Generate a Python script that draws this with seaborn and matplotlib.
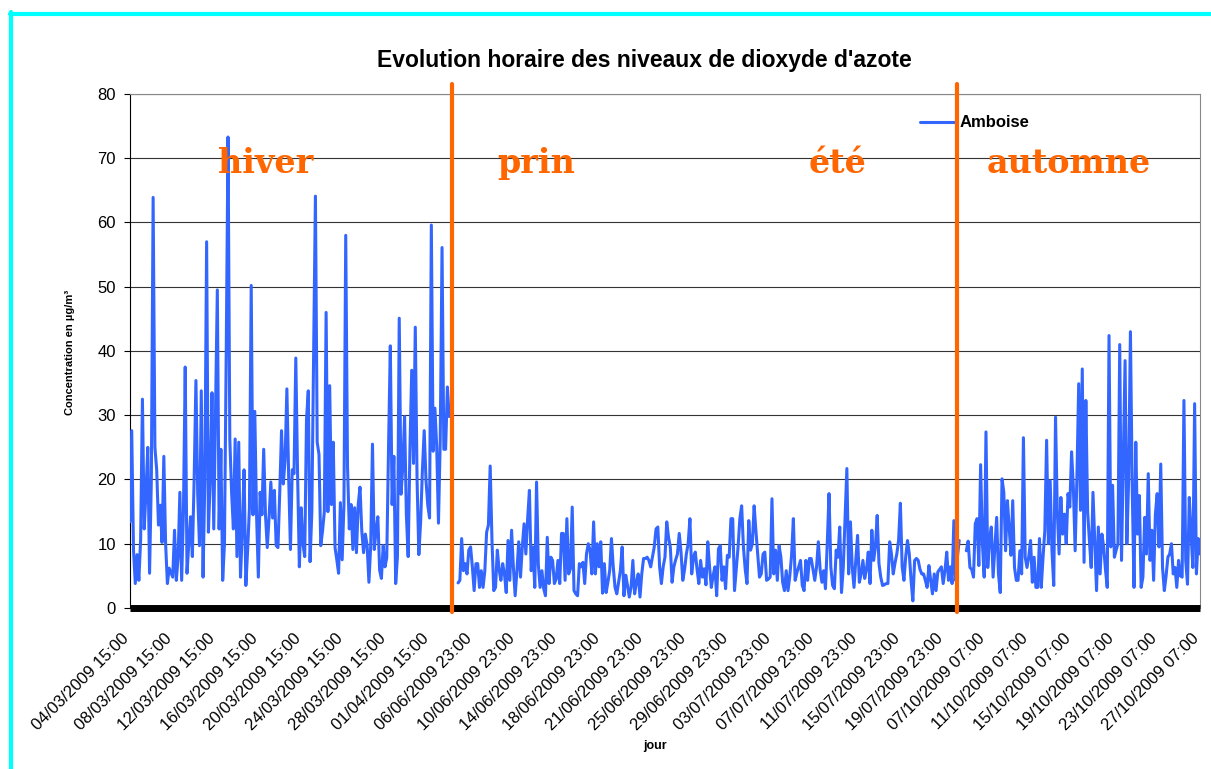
import numpy as np
import pandas as pd
import seaborn as sns
import matplotlib.pyplot as plt
from matplotlib.lines import Line2D
from matplotlib.transforms import ScaledTranslation

# NO2 (µg/m3), one value every 4 hours
hiver = [
    13.4, 27.6, 9, 3.8, 8.3, 4.3, 10.7, 32.5, 12.3, 18, 25, 5.4, 20, 63.9, 25, 21.5, 12.9, 16, 10.2, 23.6,
    10, 3.8, 6.2, 5.5, 4.8, 12.1, 4.3, 7.8, 18, 4.3, 15, 37.5, 5.4, 10, 14.2, 8, 20, 35.4, 17.7, 9.7,
    33.8, 4.8, 20, 57, 11.8, 20, 33.5, 12.3, 30.6, 49.5, 12.3, 24.7, 4.3, 10, 40, 73.3, 26.3, 18, 12.3, 26.3,
    8, 25.8, 4.8, 12, 21.5, 3.5, 9, 15.6, 50.2, 14.5, 30.6, 14.5, 4.8, 18, 14.5, 24.7, 14.5, 9.4, 14, 19.6,
    14, 18.3, 9.7, 9.4, 18, 27.6, 19.3, 23.1, 34.1, 20.4, 9.1, 21.5, 20.9, 38.9, 20.9, 6.4, 15.6, 10, 8, 29.3,
    33.8, 7.2, 15, 39, 64.1, 25.8, 23.9, 9.7, 12, 15, 46, 15, 34.6, 16.1, 25.8, 9.4, 7.5, 5.4, 16.4, 7.5,
    16.1, 58, 22, 12.3, 16.1, 9.1, 15.6, 8.6, 16.1, 18.8, 12, 8.6, 11.5, 9.7, 4, 9.7, 25.5, 9.1, 12, 14.2,
    5.9, 4.6, 9.7, 6.4, 7.8, 25, 40.8, 16.1, 23.6, 3.8, 8, 45.1, 17.7, 22, 29.8, 14.5, 8, 24.7, 37, 22.5,
    43.7, 19.9, 8.3, 13.4, 21.5, 27.6, 19.9, 16, 14, 59.6, 24.4, 31.1, 25.2, 13.2, 26.3, 56.1, 24.7, 24.7, 34.4, 29.8,
]
printemps_ete = [
    3.9, 4.3, 10.8, 5.8, 6.9, 5.3, 9, 9.5, 6.4, 2.7, 6.9, 6.9, 3.2, 5.8, 3.2, 5.8, 11.8, 12.9, 22.1, 10.5,
    2.7, 3.2, 9, 6, 4.3, 6.9, 5.3, 2.4, 10.5, 4.3, 12.1, 6.4, 1.9, 5.8, 10.3, 4.8, 9.5, 13.1, 8.4, 13.9,
    18.3, 5.8, 9.5, 3.2, 19.6, 6.7, 3.2, 5.8, 3, 1.9, 11, 3.8, 7.9, 7.4, 3.8, 4.5, 7.4, 3.8, 11.6, 11.6,
    4.3, 13.9, 5.3, 6.1, 15.7, 2.7, 2.2, 1.9, 6.9, 6.4, 7.1, 3.8, 8.4, 10, 9, 5.3, 13.4, 5.3, 10, 6.4,
    10.3, 2.3, 6.9, 2.4, 4, 5.8, 10.8, 6.4, 3.2, 2.2, 4, 5.8, 9.5, 1.9, 5.1, 3.5, 1.7, 3.2, 7.4, 2.2,
    4, 5.3, 1.7, 5.3, 7.7, 7.7, 7.9, 7.4, 6.4, 8, 9.5, 12.3, 12.6, 6.4, 3.8, 6.4, 7.9, 13.4, 11, 9.5,
    4, 6.4, 7.5, 8.4, 11.6, 8.7, 4.3, 6, 8.4, 10, 13.9, 5.3, 7.9, 8.7, 6, 3.8, 7.4, 4.8, 6.1, 3.6,
    10.3, 6.4, 3.2, 5, 6.4, 1.9, 9.2, 9.7, 4.3, 6.4, 3, 8.2, 7.9, 13.9, 13.9, 2.7, 6, 9.5, 13.9, 15.9,
    9.5, 6, 3.8, 13.6, 9, 10, 15.9, 12, 8.4, 4.8, 5.3, 8.4, 8.7, 4.3, 4.5, 4.8, 17, 5.3, 9, 4.3,
    9.7, 7.9, 4, 2.7, 5.8, 2.7, 5, 8.2, 13.9, 4.3, 5.5, 6.4, 7.4, 3.5, 2.7, 7.4, 4.3, 7.7, 7.7, 6,
    4.3, 6.4, 10.3, 6, 4, 5.8, 3, 10, 17.8, 6.4, 3.5, 3, 9, 7.9, 12.6, 2.4, 6.4, 14, 21.7, 5.3,
    13.4, 6.4, 3.2, 7.4, 11.3, 4, 5.3, 7.4, 4.6, 6, 8.7, 3.8, 12.1, 7.4, 9.5, 14.4, 6.9, 4.8, 3.5, 3.6,
    3.8, 3.8, 10.3, 8.4, 5.3, 7, 8.4, 10.5, 16.3, 6.4, 4.3, 8, 10.5, 8.4, 4.3, 1.1, 7.4, 7.7, 7.4, 6,
    5.3, 5.3, 4.3, 3.2, 6.6, 4.3, 2.2, 5.3, 2.7, 5.6, 6, 6.4, 3.8, 5.8, 8.7, 4.3, 6.4, 3.8, 13.6, 4.3, 8, 10.5,
]
automne = [
    8.9, 10.4, 6.3, 6, 4.8, 13.1, 13.9, 6.6, 22.3, 10, 4.8, 27.4, 6.3, 10.8, 12.6, 4.8, 9.5, 14.1, 5.3, 2.4,
    20.1, 18, 8.9, 16.7, 12.6, 8.2, 16.7, 6.3, 4.3, 4.3, 8.9, 5.3, 26.5, 7.9, 6.3, 8, 10.5, 4, 7.9, 3.2,
    3.2, 10.8, 3.2, 7.9, 12, 26.1, 10, 19.8, 8.9, 3.5, 29.7, 15, 8.4, 17.2, 11.5, 14.6, 10, 17.8, 15.7, 24.3,
    18.8, 8.9, 20.4, 34.9, 15.2, 37.2, 7.1, 32.3, 15, 10.5, 6.3, 18, 10.5, 2.7, 12.6, 5.3, 11.5, 9.5, 6, 3.2,
    42.4, 9.5, 19.1, 7.9, 9, 10, 41, 7.4, 23, 38.5, 10, 20, 43, 18.8, 3.2, 25.8, 11.5, 17.5, 3.2, 4.8,
    14.1, 8.4, 20.9, 7.4, 12.1, 4.3, 14.6, 17.8, 9.5, 22.4, 6.3, 2.7, 5, 7.9, 8.4, 10, 5.3, 6.3, 3.2, 7.4,
    5, 4.8, 32.3, 7.4, 3.7, 17.2, 11.5, 6.3, 31.8, 5.3, 10.8, 8.4,
]
# missing values between the measuring campaigns
manquants_1 = 4
manquants_2 = 3

dates = [
    "04/03/2009 15:00", "08/03/2009 15:00", "12/03/2009 15:00", "16/03/2009 15:00",
    "20/03/2009 15:00", "24/03/2009 15:00", "28/03/2009 15:00", "01/04/2009 15:00",
    "06/06/2009 23:00", "10/06/2009 23:00", "14/06/2009 23:00", "18/06/2009 23:00",
    "21/06/2009 23:00", "25/06/2009 23:00", "29/06/2009 23:00", "03/07/2009 23:00",
    "07/07/2009 23:00", "11/07/2009 23:00", "15/07/2009 23:00", "19/07/2009 23:00",
    "07/10/2009 07:00", "11/10/2009 07:00", "15/10/2009 07:00", "19/10/2009 07:00",
    "23/10/2009 07:00", "27/10/2009 07:00",
]
pas_dates = 24

saisons = ["hiver", "prin", "été", "automne"]
saisons_x = [0.082, 0.343, 0.634, 0.801]
separations = [180.7, 463.5]

BLEU = "#3366FF"
ORANGE = "#FF6600"

sns.set_style("white")
plt.rcParams["font.family"] = ["Liberation Sans", "DejaVu Sans"]
plt.rcParams.update({"text.color": "black", "axes.labelcolor": "black",
                     "xtick.color": "black", "ytick.color": "black"})

valeurs = hiver + [np.nan] * manquants_1 + printemps_ete + [np.nan] * manquants_2 + automne
campagne = (["hiver"] * len(hiver) + ["trou1"] * manquants_1 + ["ete"] * len(printemps_ete)
            + ["trou2"] * manquants_2 + ["automne"] * len(automne))
df = pd.DataFrame({"rang": np.arange(len(valeurs)), "no2": valeurs, "campagne": campagne}).dropna()

fig = plt.figure(figsize=(12.11, 7.69), dpi=100)
ax = fig.add_axes([0.1073, 0.2094, 0.8836, 0.6684])

sns.lineplot(data=df, x="rang", y="no2", units="campagne", estimator=None,
             color=BLEU, linewidth=2.2, ax=ax, legend=False, zorder=3)

ax.set_xlim(0, len(valeurs) - 1)
ax.set_ylim(0, 80)
ax.set_yticks(range(0, 81, 10))
ax.yaxis.grid(True, color="#333333", linewidth=0.8)
ax.set_axisbelow(True)

ax.spines["left"].set_color("black")
ax.spines["left"].set_linewidth(0.8)
ax.spines["bottom"].set_color("black")
ax.spines["bottom"].set_linewidth(5)
ax.spines["bottom"].set_capstyle("butt")
ax.spines["bottom"].set_zorder(4)
for s in ["top", "right"]:
    ax.spines[s].set_color("#888888")
    ax.spines[s].set_linewidth(0.8)

ax.tick_params(axis="y", left=True, direction="out", length=4, width=0.8, pad=6,
               labelsize=12, colors="black")
ax.set_xticks(np.arange(0, len(valeurs), pas_dates))
ax.set_xticklabels(dates, rotation=45, ha="right", va="center", rotation_mode="anchor", fontsize=12)
ax.tick_params(axis="x", bottom=False, length=0, pad=20, labelcolor="black")
decale = ScaledTranslation(-3 / 100, 0, fig.dpi_scale_trans)
for lab in ax.get_xticklabels():
    lab.set_transform(lab.get_transform() + decale)

ax.set_xlabel("")
ax.set_ylabel("")

for b in separations:
    ax.axvline(b, ymin=-0.008, ymax=1.02, color=ORANGE, linewidth=3, clip_on=False, zorder=6)

for nom, x in zip(saisons, saisons_x):
    ax.text(x, 0.847, nom, transform=ax.transAxes, family="DejaVu Serif", fontweight="bold",
            fontsize=24, color=ORANGE, ha="left", va="baseline", zorder=7)

ax.legend(handles=[Line2D([0], [0], color=BLEU, linewidth=2.2)], labels=["Amboise"],
          loc="center left", bbox_to_anchor=(0.738, 0.9436), frameon=False,
          borderaxespad=0, borderpad=0, handlelength=2.1, handletextpad=0.3,
          prop={"weight": "bold", "size": 12})

fig.text(0.532, 0.921, "Evolution horaire des niveaux de dioxyde d'azote",
         ha="center", va="center", fontsize=16.5, fontweight="bold", color="black")
fig.text(70 / 1211, 1 - 352 / 769, "Concentration en µg/m³", rotation=90,
         ha="center", va="center", fontsize=8, fontweight="bold", color="black")
fig.text(655 / 1211, 1 - 746 / 769, "jour", ha="center", va="center", fontsize=9,
         fontweight="bold", color="black")

# cyan frame visible on the top and left edges
fig.add_artist(Line2D([10 / 1211, 1], [1 - 13.7 / 769] * 2, transform=fig.transFigure,
                      color="#00FFFF", linewidth=3))
fig.add_artist(Line2D([11.3 / 1211] * 2, [0, 1 - 11.7 / 769], transform=fig.transFigure,
                      color="#00FFFF", linewidth=3))

fig.savefig("out.png", dpi=100)
